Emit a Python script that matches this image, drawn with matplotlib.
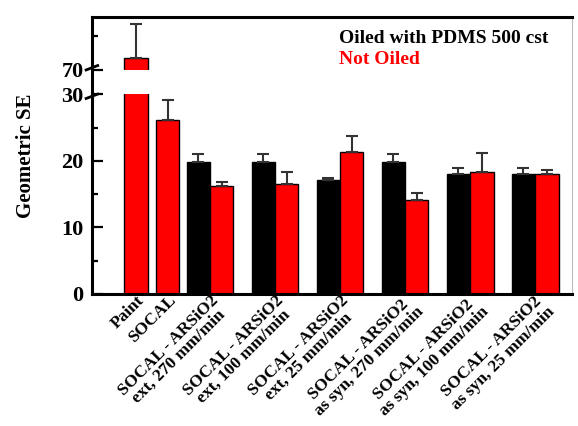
import numpy as np
import matplotlib
matplotlib.use('Agg')
import matplotlib.pyplot as plt
import matplotlib.transforms as mtransforms

plt.rcParams['font.family'] = ['Liberation Serif', 'DejaVu Serif']
plt.rcParams['font.weight'] = 'bold'

# ---- data ----
single_labels = ['Paint', 'SOCAL']
single_red = [71.7, 26.2]
single_red_err = [5.1, 3.0]

pair_labels = ['SOCAL - ARSiO2\next, 270 mm/min',
               'SOCAL - ARSiO2\next, 100 mm/min',
               'SOCAL - ARSiO2\next, 25 mm/min',
               'SOCAL - ARSiO2\nas syn, 270 mm/min',
               'SOCAL - ARSiO2\nas syn, 100 mm/min',
               'SOCAL - ARSiO2\nas syn, 25 mm/min']
oiled = [19.9, 19.9, 17.2, 19.9, 18.1, 18.1]
oiled_err = [1.1, 1.1, 0.2, 1.1, 0.8, 0.8]
not_oiled = [16.2, 16.5, 21.35, 14.1, 18.35, 18.0]
not_oiled_err = [0.6, 1.8, 2.4, 1.1, 2.8, 0.65]

# ---- broken y axis: 30..70 squeezed into a small gap ----
GAP = 3.75
def fwd(v):
    v = np.asarray(v, dtype=float)
    return np.where(v <= 30, v, np.where(v >= 70, v - 70 + 30 + GAP, 30 + (v - 30) * GAP / 40))

def inv(t):
    t = np.asarray(t, dtype=float)
    return np.where(t <= 30, t, np.where(t >= 30 + GAP, t - 30 - GAP + 70, 30 + (t - 30) * 40 / GAP))

fig = plt.figure(figsize=(5.78, 4.26), dpi=100)
ax = fig.add_axes([0.159, 0.31, 0.831, 0.65])
ax.set_yscale('function', functions=(fwd, inv))

w = 0.36
single_x = np.array([0.86, 1.35])
pair_x = np.arange(2, 2 + len(pair_labels))
err_kw = dict(ecolor='#333333', elinewidth=1.5, capsize=4.5, capthick=1.5)

ax.bar(single_x, single_red, w, color='#ff0000', edgecolor='black', lw=1,
       yerr=[np.zeros(2), single_red_err], error_kw=err_kw)
ax.bar(pair_x - w / 2, oiled, w, color='black', edgecolor='black', lw=1,
       yerr=[np.zeros(len(oiled)), oiled_err], error_kw=err_kw)
ax.bar(pair_x + w / 2, not_oiled, w, color='#ff0000', edgecolor='black', lw=1,
       yerr=[np.zeros(len(not_oiled)), not_oiled_err], error_kw=err_kw)

# white band hides the broken part of the bars
ax.axhspan(30, 70, color='white', zorder=1.5, lw=0)

ax.set_xlim(0.185, 7.57)
ax.set_ylim(0, float(inv(41.65)))

ax.set_yticks([0, 10, 20, 30, 70])
ax.set_yticks([5, 15, 25, 75], minor=True)
ax.tick_params(axis='y', which='major', direction='in', length=8, width=1.6, labelsize=16, pad=6)
ax.tick_params(axis='y', which='minor', direction='in', length=4.5, width=1.6)
ax.set_xticks(list(single_x) + list(pair_x))
ax.set_xticklabels(single_labels + pair_labels, rotation=45, ha='right',
                   rotation_mode='anchor', fontsize=12.5, fontweight='bold',
                   multialignment='center', linespacing=0.95)
ax.tick_params(axis='x', length=0, pad=-1)

for s in ['left', 'bottom', 'top']:
    ax.spines[s].set_linewidth(2.2)
ax.spines['right'].set_color('#bbbbbb')
ax.spines['right'].set_linewidth(0.8)

# break marks on the left spine
trans = mtransforms.blended_transform_factory(ax.transAxes, ax.transData)
for yb in [30, 70]:
    ax.plot([-0.012, 0.012], [yb - 0.6, yb + 0.6], color='black', lw=2,
            transform=trans, clip_on=False, zorder=5)

ax.set_ylabel('Geometric SE', fontsize=15, fontweight='bold', labelpad=18)

ax.text(0.515, 0.905, 'Oiled with PDMS 500 cst', transform=ax.transAxes,
        fontsize=14, fontweight='bold', color='black')
ax.text(0.515, 0.83, 'Not Oiled', transform=ax.transAxes,
        fontsize=14, fontweight='bold', color='#ff0000')

fig.savefig('out.png', dpi=100)
